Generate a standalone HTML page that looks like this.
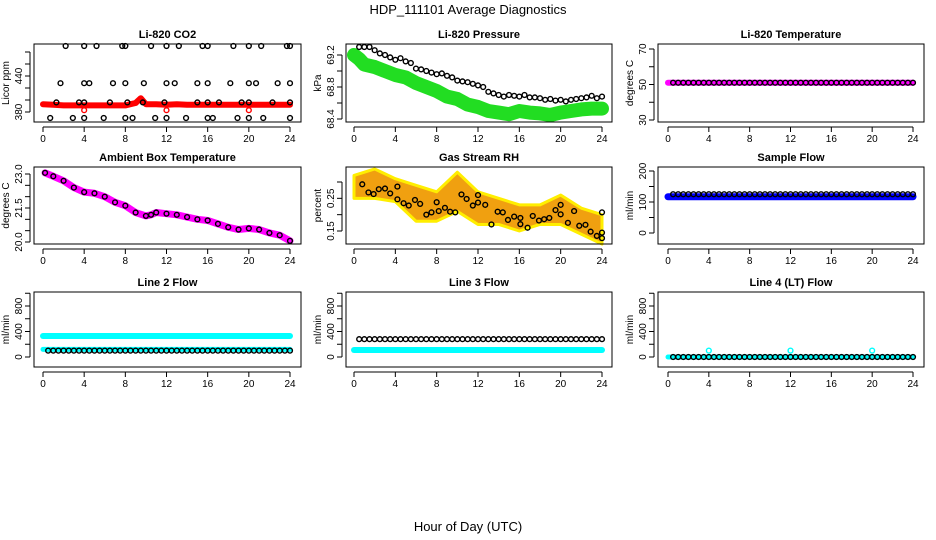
<!DOCTYPE html>
<html><head><meta charset="utf-8"><style>
body{margin:0;background:#fff}
svg{display:block;font-family:"Liberation Sans",sans-serif}
</style></head><body>
<svg id="c" width="936" height="540" viewBox="0 0 936 540" xmlns="http://www.w3.org/2000/svg">
<text x="468" y="14" text-anchor="middle" font-size="13">HDP_111101  Average Diagnostics</text>
<text x="468" y="531" text-anchor="middle" font-size="13">Hour of Day (UTC)</text>
</svg>
<script>
// ---- data ----
const xTicks=[0,4,8,12,16,20,24];
const bandHours=[0,1,2,3,4,5,6,7,8,9,9.5,10,11,12,13,14,15,16,17,18,19,20,21,22,23,24];
const co2Band=[393,392,391,391,391,391,391,391,391,395,403,393,393,392,393,392,392,392,392,392,392,392,392,392,392,392];
const co2TopH=[2.2,4,5.2,7.7,8,10.5,12,13.2,15.5,16,18.5,20,21.2,23.7,24];
const co2MidH=[1.7,4,4.5,6.8,8,9.8,12,12.8,15,16,18.2,20,20.7,22.8,24];
const co2LowH=[1.3,3.5,4,6.5,8.2,9.7,11.8,15,16,17.1,19.3,20,22.3,24];
const co2BotH=[0.7,2.9,4,5.9,8,8.7,10.9,12,13.9,16,16.5,18.9,20,21.4,24];
const co2Levels=[490,428,396,370];
const co2OutH=[4,12,20];
const co2OutV=[383,383,383];
const presHours=[0,0.5,1,2,3,4,5,6,7,8,9,10,11,12,13,14,15,16,17,18,19,20,21,22,23,24];
const presGreen=[69.2,69.15,69.08,69.05,69.0,68.95,68.92,68.85,68.8,68.75,68.68,68.65,68.58,68.55,68.5,68.48,68.46,68.5,68.48,68.47,68.45,68.48,68.5,68.52,68.53,68.53];
const presCircH=[0.5,1,1.5,2,2.5,3,3.5,4,4.5,5,5.5,6,6.5,7,7.5,8,8.5,9,9.5,10,10.5,11,11.5,12,12.5,13,13.5,14,14.5,15,15.5,16,16.5,17,17.5,18,18.5,19,19.5,20,20.5,21,21.5,22,22.5,23,23.5,24];
const presCirc=[69.3,69.3,69.3,69.26,69.22,69.2,69.17,69.14,69.16,69.12,69.1,69.03,69.02,69.0,68.98,68.96,68.97,68.94,68.92,68.88,68.87,68.86,68.84,68.82,68.8,68.74,68.72,68.7,68.68,68.7,68.69,68.68,68.7,68.67,68.67,68.66,68.64,68.65,68.63,68.64,68.62,68.64,68.65,68.66,68.67,68.69,68.66,68.68];
const tempBand=51;
const ambHours=[0.2,1,2,3,4,5,6,7,8,9,10,10.5,11,12,13,14,15,16,17,18,19,20,21,22,23,24];
const ambVals=[23.05,22.9,22.7,22.4,22.2,22.15,22.0,21.75,21.6,21.3,21.15,21.2,21.3,21.25,21.2,21.1,21.0,20.95,20.8,20.65,20.55,20.6,20.55,20.4,20.3,20.05];
const rhHours=[0,2,4,6,8,10,12,14,16,18,20,22,24];
const rhUpper=[0.32,0.34,0.31,0.29,0.27,0.33,0.27,0.25,0.23,0.23,0.26,0.22,0.2];
const rhLower=[0.25,0.25,0.24,0.18,0.18,0.21,0.17,0.17,0.15,0.17,0.17,0.14,0.11];
const rhCircH=[0.8,1.4,1.9,2.4,3,3.5,4.2,4.2,4.8,5.3,5.9,6.4,7,7.5,8,8.2,8.8,9.3,9.8,10.4,10.9,11.5,12,12,12.7,13.3,13.9,14.4,14.9,15.5,16.1,16.1,16.8,17.3,17.9,18.4,18.9,19.5,20,20,20.7,21.3,21.8,22.4,22.9,23.5,24,24,24];
const rhCircV=[0.293,0.268,0.263,0.278,0.28,0.265,0.286,0.247,0.235,0.228,0.245,0.233,0.2,0.207,0.238,0.211,0.221,0.209,0.207,0.262,0.248,0.228,0.26,0.237,0.23,0.17,0.209,0.207,0.184,0.194,0.19,0.171,0.16,0.196,0.182,0.186,0.19,0.214,0.201,0.23,0.175,0.211,0.166,0.169,0.148,0.135,0.128,0.145,0.207];
const sampleBand=117, sampleCirc=125;
const line2Upper=330, line2Lower=120, line2Circ=100;
const line3Circ=280, line3Band=110;
const line4Band=0, line4Circ=0;
const line4OutH=[4,12,20];
const line4OutV=[100,100,100];

// ---- layout ----
const NS="http://www.w3.org/2000/svg";
const svg=document.getElementById('c');
const cols=[{x0:34,x1:301,a:43,b:290},{x0:346,x1:612,a:354,b:602},{x0:658,x1:924,a:668,b:913}];
const rows=[{y0:44,y1:122},{y0:167,y1:244},{y0:292,y1:367}];
function el(tag,attrs,parent){const e=document.createElementNS(NS,tag);for(const k in attrs)e.setAttribute(k,attrs[k]);(parent||svg).appendChild(e);return e;}
function halfHours(){const a=[];for(let h=0.5;h<=24.001;h+=0.5)a.push(h);return a;}

function panel(ci,ri,name,title,ylab,v1,p1,v2,p2,ticks,labels,draw){
  const c=cols[ci],r=rows[ri];
  const g=el('g',{});
  
  
  const X=h=>c.a+(c.b-c.a)*h/24;
  const Y=v=>p1+(v-v1)*(p2-p1)/(v2-v1);
  const t=el('text',{x:(c.x0+c.x1)/2,y:r.y0-6,'text-anchor':'middle','font-size':11,'font-weight':'bold'},g);
  t.textContent=title;
  
  
  const cg=el('g',{},g);
  
  
  draw(cg,X,Y);
  const box=el('rect',{x:c.x0,y:r.y0,width:c.x1-c.x0,height:r.y1-r.y0,fill:'none',stroke:'#000','stroke-width':1},g);
  
  
  const xa=el('g',{},g);
  
  
  el('line',{x1:X(0),x2:X(24),y1:r.y1+5,y2:r.y1+5,stroke:'#000'},xa);
  xTicks.forEach(h=>{
    el('line',{x1:X(h),x2:X(h),y1:r.y1+5,y2:r.y1+10,stroke:'#000'},xa);
    const tl=el('text',{x:X(h),y:r.y1+20,'text-anchor':'middle','font-size':10},xa);
    tl.textContent=h;
  });
  const ya=el('g',{},g);
  
  
  const ax=c.x0-4;
  el('line',{x1:ax,x2:ax,y1:Y(ticks[0]),y2:Y(ticks[ticks.length-1]),stroke:'#000'},ya);
  ticks.forEach(v=>el('line',{x1:ax-5,x2:ax,y1:Y(v),y2:Y(v),stroke:'#000'},ya));
  labels.forEach(v=>{
    const yy=Y(parseFloat(v));
    const tl=el('text',{x:ax-8,y:yy,'text-anchor':'middle','font-size':10,transform:`rotate(-90 ${ax-8} ${yy})`},ya);
    tl.textContent=v;
  });
  const yl=el('text',{x:c.x0-25,y:(r.y0+r.y1)/2,'text-anchor':'middle','font-size':10,transform:`rotate(-90 ${c.x0-25} ${(r.y0+r.y1)/2})`},g);
  yl.textContent=ylab;
  
  
}
function band(g,X,Y,hs,vs,color,w){
  const p=el('polyline',{points:hs.map((h,i)=>X(h)+','+Y(vs[i])).join(' '),fill:'none',stroke:color,'stroke-width':w,'stroke-linejoin':'round','stroke-linecap':'round'},g);
  
  
}
function circles(g,X,Y,hs,vs,color,fill){
  hs.forEach((h,i)=>{
    const c=el('circle',{cx:X(h),cy:Y(vs[i]),r:2.4,fill:fill||'none',stroke:color||'#000','stroke-width':1.4},g);
    
    
  });
}
const HH=halfHours();
const flat=(v,n)=>Array(n).fill(v);

panel(0,0,'co2-panel','Li-820 CO2','Licor ppm',380,112,440,76,[380,400,420,440,460,480],['380','440'],(g,X,Y)=>{
  band(g,X,Y,bandHours,co2Band,'#ff0000',6);
  circles(g,X,Y,co2OutH,co2OutV,'#ff0000');
  circles(g,X,Y,co2TopH,flat(co2Levels[0],co2TopH.length));
  circles(g,X,Y,co2MidH,flat(co2Levels[1],co2MidH.length));
  circles(g,X,Y,co2LowH,flat(co2Levels[2],co2LowH.length));
  circles(g,X,Y,co2BotH,flat(co2Levels[3],co2BotH.length));
});
panel(1,0,'pressure-panel','Li-820 Pressure','kPa',69.2,55,68.4,119,[68.4,68.6,68.8,69.0,69.2],['68.4','68.8','69.2'],(g,X,Y)=>{
  band(g,X,Y,presHours,presGreen,'#22dd22',14);
  circles(g,X,Y,presCircH,presCirc);
});
panel(2,0,'li820-temperature-panel','Li-820 Temperature','degrees C',30,120,70,49,[30,40,50,60,70],['30','50','70'],(g,X,Y)=>{
  band(g,X,Y,[0,24],[tempBand,tempBand],'#ff00ff',6);
  circles(g,X,Y,HH,flat(tempBand,HH.length));
});
panel(0,1,'ambient-temperature-panel','Ambient Box Temperature','degrees C',20,242,23,174,[20,20.5,21,21.5,22,22.5,23],['20.0','21.5','23.0'],(g,X,Y)=>{
  band(g,X,Y,ambHours,ambVals,'#ff00ff',7);
  circles(g,X,Y,ambHours,ambVals);
});
panel(1,1,'gas-rh-panel','Gas Stream RH','percent',0.15,231,0.30,182,[0.15,0.20,0.25,0.30],['0.15','0.25'],(g,X,Y)=>{
  const pts=rhHours.map((h,i)=>X(h)+','+Y(rhUpper[i])).concat(rhHours.slice().reverse().map((h,i)=>X(h)+','+Y(rhLower[rhHours.length-1-i])));
  const p=el('polygon',{points:pts.join(' '),fill:'#f0a010',stroke:'#ffee00','stroke-width':3,'stroke-linejoin':'round'},g);
  
  
  circles(g,X,Y,rhCircH,rhCircV);
});
panel(2,1,'sample-flow-panel','Sample Flow','ml/min',0,233,200,171,[0,50,100,150,200],['0','100','200'],(g,X,Y)=>{
  band(g,X,Y,[0,24],[sampleBand,sampleBand],'#0000ff',7);
  circles(g,X,Y,HH,flat(sampleCirc,HH.length));
});
panel(0,2,'line2-flow-panel','Line 2 Flow','ml/min',0,357,800,306,[0,200,400,600,800,1000],['0','400','800'],(g,X,Y)=>{
  band(g,X,Y,[0,24],[line2Upper,line2Upper],'#00ffff',6);
  band(g,X,Y,[0,24],[line2Lower,line2Lower],'#00ffff',5);
  circles(g,X,Y,HH,flat(line2Circ,HH.length));
});
panel(1,2,'line3-flow-panel','Line 3 Flow','ml/min',0,357,800,306,[0,200,400,600,800,1000],['0','400','800'],(g,X,Y)=>{
  band(g,X,Y,[0,24],[line3Band,line3Band],'#00ffff',6);
  circles(g,X,Y,HH,flat(line3Circ,HH.length));
});
panel(2,2,'line4-flow-panel','Line 4 (LT) Flow','ml/min',0,357,800,306,[0,200,400,600,800,1000],['0','400','800'],(g,X,Y)=>{
  band(g,X,Y,[0,24],[line4Band,line4Band],'#00ffff',5);
  circles(g,X,Y,HH,flat(line4Circ,HH.length));
  circles(g,X,Y,line4OutH,line4OutV,'#00ffff');
});
</script>
</body></html>
